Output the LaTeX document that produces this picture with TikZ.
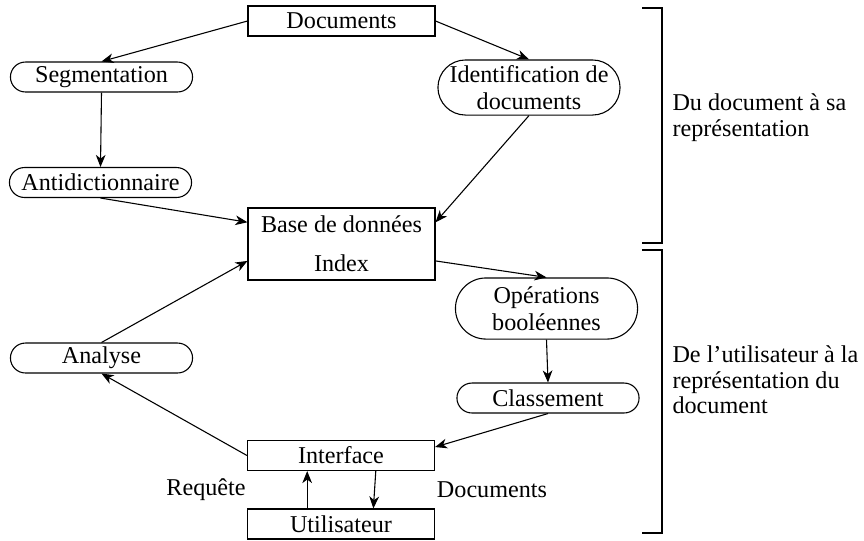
\documentclass[tikz,border=0pt]{standalone}
\usepackage{fontspec}
\setmainfont{Liberation Serif}
\usetikzlibrary{shapes.misc,arrows.meta}

\begin{document}
\begin{tikzpicture}[x=0.414pt,y=-0.414pt,line width=0.45pt,
				>={Stealth[length=5pt,width=4pt,inset=1.5pt]},
				box node/.style = {rectangle,draw,inner sep=1pt,minimum width=77.4pt,minimum height=12.4pt,
					font=\fontsize{10}{11}\selectfont,align=center},
				round node/.style = {rounded rectangle,draw,inner sep=1pt,minimum width=77.4pt,minimum height=12.4pt,
					font=\fontsize{10}{11}\selectfont,align=center},
				side text/.style = {anchor=west,inner sep=0pt,align=left,font=\fontsize{10}{10.5}\selectfont}]
				\useasboundingbox (0,0) rectangle (864,540);
				\node[box node] (1) at (341.5,21) {Documents};
				\node[round node] (2) at (101.5,77) {Segmentation};
				\node[round node,minimum height=22.8pt] (3) at (529,87.5) {Identification de\\documents};
				\node[round node] (4) at (100.5,182.5) {Antidictionnaire};
				\node[box node,minimum height=29.8pt] (5) at (341.5,244) {Base de donn\'ees\\[5pt]Index};
				\node[round node,minimum height=25.3pt] (6) at (546.5,308.5) {Op\'erations\\bool\'eennes};
				\node[round node] (7) at (548,398) {Classement};
				\node[round node] (8) at (101.5,358) {Analyse};
				\node[box node] (9) at (341,455.5) {Interface};
				\node[box node] (10) at (341,524) {Utilisateur};
				\node (11) at (206,490) {Requ\^ete};
				\node (12) at (492,490) {Documents};
				\node[side text] (13) at (672,117.5) {Du document \`a sa\\repr\'esentation};
				\node[side text] (14) at (672,380) {De l'utilisateur \`a la\\repr\'esentation du\\document};
				
				% brackets
				\draw (642,8) -| (662,243) -- (642,243);
				\draw (642,250) -| (662,533) -- (642,533);
				
				\path[->]
				(1.west) edge (2.north)
				(1.east) edge (3.north)
				(2.south) edge (4.north)
				(4.south) edge ([yshift=9pt]5.west)
				(3.south) edge ([yshift=9pt]5.east)
				([yshift=-7pt]5.east) edge (6.north)
				(6.south) edge (7.north)
				(7.south) edge ([yshift=3.5pt]9.east)
				(9.west) edge (8.south)
				(8.north) edge ([yshift=-7pt]5.west)
				([xshift=-14pt]10.north) edge ([xshift=-14pt]9.south)
				([xshift=14.4pt]9.south) edge ([xshift=13.4pt]10.north);
\end{tikzpicture}
\end{document}
